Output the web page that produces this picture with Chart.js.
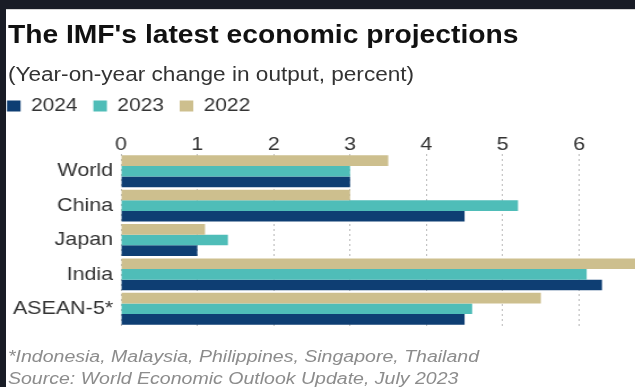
<!DOCTYPE html>
<html><head><meta charset="utf-8">
<script src="https://cdn.jsdelivr.net/npm/chart.js@4"></script>
<style>
html,body{margin:0;padding:0;width:635px;height:387px;overflow:hidden;background:#191c26;}
#paper{position:absolute;left:6px;top:9px;width:629px;height:378px;background:#fff;border-top:1px solid #d6d6d6;}
#wrap{position:absolute;left:0;top:0;width:562px;height:387px;transform:scaleX(1.13);transform-origin:0 0;}
.t{position:absolute;left:7px;font-family:"Liberation Sans",Arial,sans-serif;white-space:nowrap;}
#title{top:20px;font-size:25px;font-weight:bold;color:#111;}
#sub{top:63px;font-size:20px;color:#333;}
#foot{top:344.5px;font-size:17.3px;font-style:italic;color:#8c8c8c;line-height:22px;}
canvas{position:absolute;left:0;top:0;}
</style></head>
<body>
<div id="paper"></div>
<div id="wrap">
<div class="t" id="title">The IMF's latest economic projections</div>
<div class="t" id="sub">(Year-on-year change in output, percent)</div>
<div class="t" id="foot">*Indonesia, Malaysia, Philippines, Singapore, Thailand<br>Source: World Economic Outlook Update, July 2023</div>
<canvas id="c" width="562" height="387"></canvas>
</div>
<script>
const categories = ["World", "China", "Japan", "India", "ASEAN-5*"];
const values2022 = [3.5, 3.0, 1.1, 7.2, 5.5];
const values2023 = [3.0, 5.2, 1.4, 6.1, 4.6];
const values2024 = [3.0, 4.5, 1.0, 6.3, 4.5];
const tickValues = [0, 1, 2, 3, 4, 5, 6];

const FONT = '"Liberation Sans", Arial, sans-serif';
const legendShift = {
  id: 'legendShift',
  afterLayout(chart) {
    const lg = chart.legend;
    if (lg) { lg.left = -7.8; lg.top = 82.75; }
  }
};
new Chart(document.getElementById('c'), {
  type: 'bar',
  data: {
    labels: categories,
    datasets: [
      {label: '2022', data: values2022, backgroundColor: '#cdbf8e'},
      {label: '2023', data: values2023, backgroundColor: '#4fbdb8'},
      {label: '2024', data: values2024, backgroundColor: '#0e3e73'}
    ]
  },
  plugins: [legendShift],
  options: {
    indexAxis: 'y',
    responsive: false,
    animation: false,
    layout: {padding: {top: 80, bottom: 61, left: 0, right: 0}},
    datasets: {bar: {categoryPercentage: 0.928, barPercentage: 1.0, borderWidth: 0}},
    plugins: {
      title: {display: false},
      tooltip: {enabled: false},
      legend: {
        position: 'top', align: 'start', reverse: true,
        labels: {
          boxWidth: 12, boxHeight: 11, padding: 14,
          color: '#333', font: {family: FONT, size: 18.5}
        }
      }
    },
    scales: {
      x: {
        position: 'top', min: 0, max: 6.734,
        z: 1,
        afterBuildTicks: s => { s.ticks = tickValues.map(v => ({value: v})); },
        afterFit: s => { s.height = 31.5; },
        ticks: {color: '#333', font: {family: FONT, size: 19}, padding: -2, maxRotation: 0},
        grid: {color: 'rgba(150,150,150,0.65)', lineWidth: 1, drawTicks: false},
        border: {display: false, dash: [2, 3]}
      },
      y: {
        afterFit: s => { s.width = 107.1; },
        ticks: {color: '#333', font: {family: FONT, size: 19}, padding: 7},
        grid: {display: false, drawTicks: false},
        border: {display: false}
      }
    }
  }
});
</script>
</body></html>
